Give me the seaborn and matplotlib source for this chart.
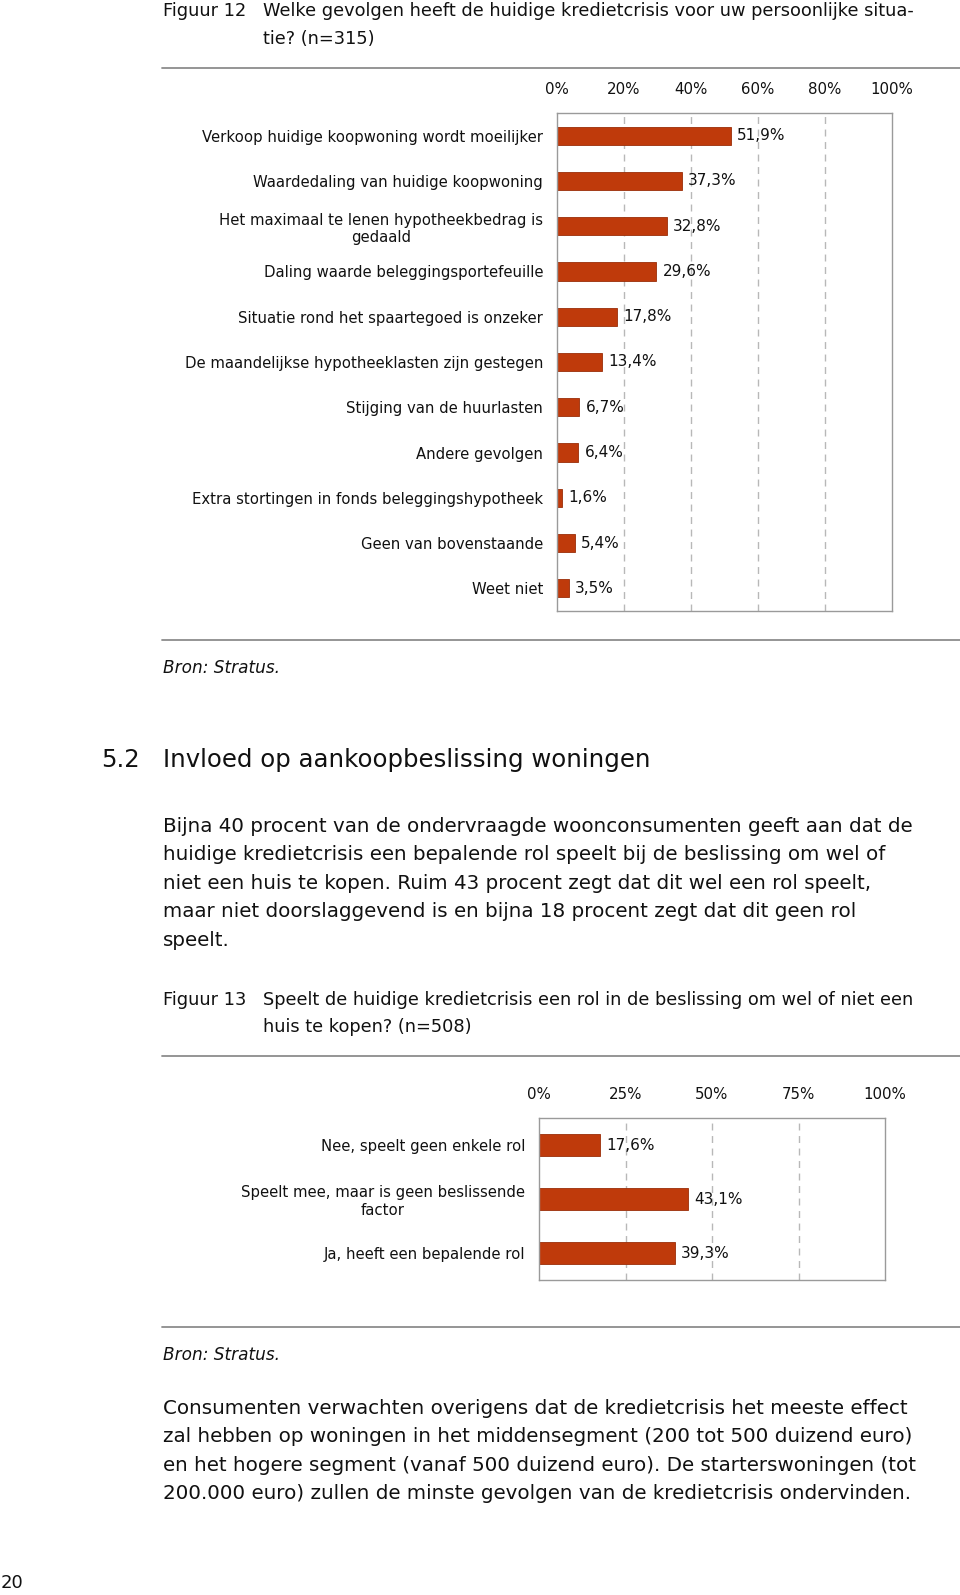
import matplotlib
matplotlib.use("Agg")
import matplotlib.pyplot as plt
import seaborn as sns
import pandas as pd

# figuur 12
gevolgen = [
    "Verkoop huidige koopwoning wordt moeilijker",
    "Waardedaling van huidige koopwoning",
    "Het maximaal te lenen hypotheekbedrag is\ngedaald",
    "Daling waarde beleggingsportefeuille",
    "Situatie rond het spaartegoed is onzeker",
    "De maandelijkse hypotheeklasten zijn gestegen",
    "Stijging van de huurlasten",
    "Andere gevolgen",
    "Extra stortingen in fonds beleggingshypotheek",
    "Geen van bovenstaande",
    "Weet niet",
]
gevolgen_pct = [51.9, 37.3, 32.8, 29.6, 17.8, 13.4, 6.7, 6.4, 1.6, 5.4, 3.5]
ticks_12 = [0, 20, 40, 60, 80, 100]

# figuur 13
rol = [
    "Nee, speelt geen enkele rol",
    "Speelt mee, maar is geen beslissende\nfactor",
    "Ja, heeft een bepalende rol",
]
rol_pct = [17.6, 43.1, 39.3]
ticks_13 = [0, 25, 50, 75, 100]

body_1 = [
    "Bijna 40 procent van de ondervraagde woonconsumenten geeft aan dat de",
    "huidige kredietcrisis een bepalende rol speelt bij de beslissing om wel of",
    "niet een huis te kopen. Ruim 43 procent zegt dat dit wel een rol speelt,",
    "maar niet doorslaggevend is en bijna 18 procent zegt dat dit geen rol",
    "speelt.",
]
body_2 = [
    "Consumenten verwachten overigens dat de kredietcrisis het meeste effect",
    "zal hebben op woningen in het middensegment (200 tot 500 duizend euro)",
    "en het hogere segment (vanaf 500 duizend euro). De starterswoningen (tot",
    "200.000 euro) zullen de minste gevolgen van de kredietcrisis ondervinden.",
]

BAR = "#BF3A0B"
EDGE = "#9A2E08"
BOX = "#9a9a9a"
GRID = "#b8b8b8"

sns.set_style("white")
plt.rcParams["font.family"] = ["DejaVu Sans"]

W, H = 960, 1595
fig = plt.figure(figsize=(W / 100, H / 100), dpi=100)


def ft(x, y, s, **kw):
    # x, y in pixels from the top left of the page
    kw.setdefault("va", "center")
    fig.text(x / W, 1 - y / H, s, color="#111111", **kw)


def hline(y, x0=162, x1=960):
    fig.add_artist(plt.Line2D([x0 / W, x1 / W], [1 - y / H, 1 - y / H],
                              color="#8c8c8c", lw=1.3, transform=fig.transFigure))


def bar_chart(rect, cats, vals, ticks):
    left, top, right, bottom = rect
    ax = fig.add_axes([left / W, 1 - bottom / H, (right - left) / W, (bottom - top) / H])
    df = pd.DataFrame({"cat": cats, "pct": vals})
    sns.barplot(data=df, x="pct", y="cat", orient="h", color=BAR, width=0.4,
                edgecolor=EDGE, linewidth=0.6, saturation=1, ax=ax)
    ax.set_xlim(0, 100)
    ax.set_ylim(len(cats) - 0.5, -0.5)
    ax.set_xticks(ticks)
    ax.set_xticklabels([f"{t}%" for t in ticks])
    ax.xaxis.tick_top()
    ax.tick_params(axis="x", length=0, pad=11.5, labelsize=10.8, colors="#111111")
    ax.tick_params(axis="y", length=0, pad=10, labelsize=10.7, colors="#111111")
    for lab in ax.get_yticklabels():
        lab.set_multialignment("center")
    ax.set_xlabel("")
    ax.set_ylabel("")
    for t in ticks[1:-1]:
        ax.axvline(t, color=GRID, lw=1, ls=(0, (5, 4)), zorder=0)
    for sp in ax.spines.values():
        sp.set_visible(True)
        sp.set_color(BOX)
        sp.set_linewidth(1)
    ax.bar_label(ax.containers[0], labels=[f"{v:.1f}%".replace(".", ",") for v in vals],
                 padding=4.5, fontsize=11, color="#111111")
    return ax


# ---- figuur 12 ----
ft(163, 11, "Figuur 12", fontsize=12.8)
ft(263, 11, "Welke gevolgen heeft de huidige kredietcrisis voor uw persoonlijke situa-", fontsize=12.8)
ft(263, 39, "tie? (n=315)", fontsize=12.8)
hline(68)
bar_chart((557, 113, 892, 611), gevolgen, gevolgen_pct, ticks_12)
hline(640)
ft(163, 668, "Bron: Stratus.", fontsize=12.2, style="italic")

# ---- paragraaf 5.2 ----
ft(101, 760, "5.2", fontsize=17.6)
ft(163, 760, "Invloed op aankoopbeslissing woningen", fontsize=17.6)
for i, line in enumerate(body_1):
    ft(163, 826 + i * 28.5, line, fontsize=14.3)

# ---- figuur 13 ----
ft(163, 1000, "Figuur 13", fontsize=12.8)
ft(263, 1000, "Speelt de huidige kredietcrisis een rol in de beslissing om wel of niet een", fontsize=12.8)
ft(263, 1027, "huis te kopen? (n=508)", fontsize=12.8)
hline(1056)
bar_chart((539, 1118, 885, 1280), rol, rol_pct, ticks_13)
hline(1327)
ft(163, 1355, "Bron: Stratus.", fontsize=12.2, style="italic")

for i, line in enumerate(body_2):
    ft(163, 1408 + i * 28.6, line, fontsize=14.3)

ft(1, 1583, "20", fontsize=13)

fig.savefig("out.png", dpi=100, facecolor="white")
